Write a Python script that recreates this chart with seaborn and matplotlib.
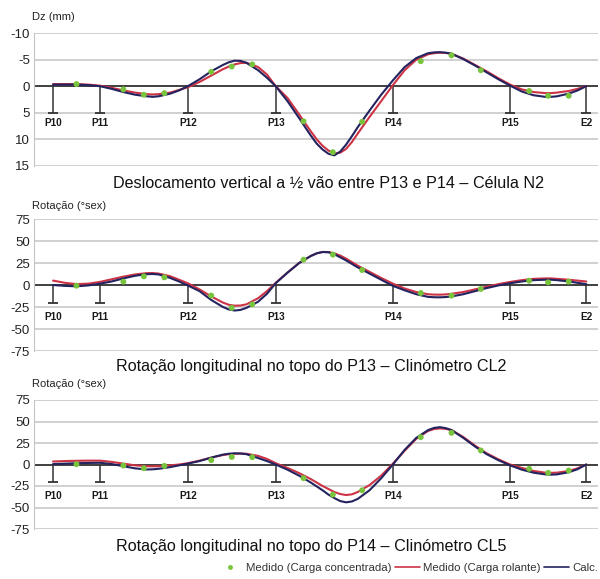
import matplotlib
matplotlib.use("Agg")
import matplotlib.pyplot as plt
import numpy as np
import pandas as pd
import seaborn as sns
from matplotlib.lines import Line2D

# ---------------- data ----------------
supports = ["P10", "P11", "P12", "P13", "P14", "P15", "E2"]
support_x = [0, 16, 46, 76, 116, 156, 182]

x_m = [0, 4, 8, 12, 16, 20, 24, 28, 32, 34,
       36, 40, 43, 46, 50, 54, 58, 60, 62, 64,
       66, 70, 73, 76, 80, 84, 88, 90, 92, 94,
       96, 98, 100, 102, 104, 108, 112, 116, 120, 124,
       128, 130, 132, 134, 136, 140, 144, 148, 152, 156,
       160, 164, 168, 170, 172, 176, 179, 182]

dz_calc = [-0.3, -0.3, -0.3, -0.2, 0.0, 0.5, 1.1, 1.6, 1.9, 2.0,
           1.9, 1.4, 0.8, 0.0, -1.3, -2.8, -4.0, -4.5, -4.8, -4.75,
           -4.4, -3.0, -1.6, 0.0, 2.8, 6.0, 9.3, 10.8, 11.9, 12.7,
           13.0, 12.3, 11.0, 9.4, 7.7, 4.6, 1.6, -1.1, -3.6, -5.3,
           -6.2, -6.35, -6.4, -6.3, -6.1, -5.1, -3.9, -2.6, -1.3, -0.1,
           1.0, 1.7, 2.0, 2.0, 1.9, 1.4, 0.8, 0.0]
dz_rolante = [-0.4, -0.4, -0.4, -0.3, -0.1, 0.3, 0.8, 1.2, 1.5, 1.55,
              1.5, 1.2, 0.7, 0.2, -0.8, -2.0, -3.2, -3.7, -4.1, -4.35,
              -4.4, -3.6, -2.2, 0.0, 2.2, 5.3, 8.5, 10.0, 11.2, 12.1,
              12.6, 12.5, 11.8, 10.5, 8.9, 5.8, 2.8, -0.2, -3.0, -5.0,
              -6.0, -6.2, -6.3, -6.25, -6.1, -5.2, -4.0, -2.8, -1.5, -0.3,
              0.6, 1.1, 1.3, 1.3, 1.2, 0.9, 0.5, 0.0]

cl2_calc = [0, -1, -1.5, -0.5, 1.5, 4, 7.5, 10.5, 12.3, 12.5,
            12, 8, 4, -0.5, -7, -17, -25, -27.8, -29, -28.3,
            -26, -19, -10, 2, 14, 25, 33, 36, 37.5, 37.2,
            35, 31.5, 28, 24, 20, 13, 6, -1, -6, -10.5,
            -13.5, -13.9, -14, -13.7, -13, -10.5, -7, -3.5, -0.5, 2,
            4, 5.5, 6, 6, 5.5, 4, 2.5, 1]
cl2_rolante = [5, 2.5, 1, 1.5, 3.5, 6.5, 9.5, 12, 13.5, 13.6,
               13, 10, 6, 2, -5, -13, -20, -22.5, -23.5, -23.3,
               -22, -15, -7, 2.5, 14, 25, 33, 36, 37.5, 37.5,
               36, 33.5, 30, 26, 22, 15, 8, 1.5, -4, -8,
               -10.5, -10.9, -11, -10.7, -10, -8, -5, -2, 1, 3.5,
               5.5, 7, 7.5, 7.5, 7, 6, 5, 4]

cl5_calc = [0.5, 1, 1.5, 1.8, 2, 0.5, -2, -4.5, -5.8, -5.6,
            -5, -3, -1, 1, 4, 8, 11.5, 12.5, 13, 12.8,
            12, 7.5, 4, 0, -6, -13, -21, -25.5, -30, -35,
            -39, -42.5, -44, -43, -40, -30, -16, 0, 17, 31,
            40, 42.5, 43.4, 42.3, 40, 31, 21, 12, 5, -1,
            -6, -9.5, -11.5, -11.8, -11.5, -9, -5.5, 0]
cl5_rolante = [3.5, 4, 4.3, 4.5, 4.5, 3, 1, -1, -2, -2.1,
               -2, -1, 0, 1.5, 4.5, 8, 11, 12, 12.5, 12.7,
               12.5, 10, 6.5, 1.5, -4, -10, -17, -21, -25, -28.5,
               -32, -34.3, -35.5, -34.7, -32, -24, -13, 1, 16, 30,
               39, 41.2, 42, 41.5, 40, 32, 22, 13, 6, 0,
               -4, -7.5, -9.5, -9.7, -9.5, -7.5, -4.5, 0]

x_pts = [8, 24, 31, 38, 54, 61, 68, 85.5, 95.5, 105.5, 125.5, 136, 146, 162.5, 169, 176]
dz_conc = [-0.4, 0.6, 1.6, 1.3, -2.7, -3.7, -4.1, 6.6, 12.4, 6.7, -4.7, -5.8, -3.0, 0.9, 1.8, 1.8]
cl2_conc = [-0.8, 3.8, 9.8, 8.7, -12, -26, -22, 28.8, 34.5, 17, -9.1, -12.1, -4.5, 4.9, 3, 3.8]
cl5_conc = [0.3, -1.2, -4.3, -1.6, 5, 8.8, 8.5, -15.9, -35, -30, 31.8, 36.8, 16.3, -5, -9.7, -7]

titles = ["Deslocamento vertical a ½ vão entre P13 e P14 – Célula N2",
          "Rotação longitudinal no topo do P13 – Clinómetro CL2",
          "Rotação longitudinal no topo do P14 – Clinómetro CL5"]
ylabels = ["Dz (mm)", "Rotação (°sex)", "Rotação (°sex)"]
lbl_conc = "Medido (Carga concentrada)"
lbl_rol = "Medido (Carga rolante)"
lbl_calc = "Calc."

# ---------------- style ----------------
sns.set_theme(style="white")
plt.rcParams["font.family"] = ["Liberation Sans", "DejaVu Sans"]

C_GREEN = "#78c43c"
C_RED = "#cc3345"
C_NAVY = "#23235f"
C_GRID = "#c4c4c4"

fig = plt.figure(figsize=(6.0, 5.79), dpi=100)
H = 579.0
left = 34 / 600
width = (598 - 34) / 600
panel_px = [(33, 166), (219, 351), (400, 529)]   # top, bottom pixel rows of plot areas

panels = [
    dict(calc=dz_calc, rol=dz_rolante, conc=dz_conc, ylim=(15, -10),
         ticks=[-10, -5, 0, 5, 10, 15], sup_bot=5, lab_y=6.9),
    dict(calc=cl2_calc, rol=cl2_rolante, conc=cl2_conc, ylim=(-75, 75),
         ticks=[75, 50, 25, 0, -25, -50, -75], sup_bot=-20, lab_y=-36),
    dict(calc=cl5_calc, rol=cl5_rolante, conc=cl5_conc, ylim=(-75, 75),
         ticks=[75, 50, 25, 0, -25, -50, -75], sup_bot=-20, lab_y=-37),
]

title_y = [183, 367, 547]
title_x = [329, 311, 311]
ylabel_y = [17, 206, 384]
ylabel_x = [32, 32, 32]

for i, p in enumerate(panels):
    top_px, bot_px = panel_px[i]
    ax = fig.add_axes([left, 1 - bot_px / H, width, (bot_px - top_px) / H])
    ax.set_xlim(-6.5, 186)
    ax.set_ylim(*p["ylim"])
    ax.set_yticks(p["ticks"])
    ax.set_yticklabels([str(t) for t in p["ticks"]], fontsize=9.5, color="#222222")
    ax.tick_params(axis="y", length=0, pad=3)
    ax.set_xticks([])
    for s in ax.spines.values():
        s.set_visible(False)
    ax.spines["left"].set_visible(True)
    ax.spines["left"].set_color(C_GRID)
    ax.spines["left"].set_linewidth(0.8)
    for t in p["ticks"]:
        ax.axhline(t, color=C_GRID, lw=1.1, zorder=0)
    ax.axhline(0, color="#1a1a1a", lw=1.1, zorder=1)

    # supports
    ax.vlines(support_x, 0, p["sup_bot"], color="#333333", lw=1.1, zorder=2)
    ax.plot(support_x, [p["sup_bot"]] * len(support_x), ls="none", marker="_",
            ms=7, mew=1.3, color="#333333", zorder=2)
    for sx, name in zip(support_x, supports):
        ax.text(sx, p["lab_y"], name, ha="center", va="center", fontsize=7.2,
                fontweight="bold", color="#1a1a1a")

    df_lines = pd.DataFrame({
        "x": x_m * 2,
        "v": list(p["rol"]) + list(p["calc"]),
        "serie": [lbl_rol] * len(x_m) + [lbl_calc] * len(x_m),
    })
    sns.lineplot(data=df_lines, x="x", y="v", hue="serie",
                 palette={lbl_rol: C_RED, lbl_calc: C_NAVY},
                 estimator=None, sort=False, lw=1.5, ax=ax, legend=False, zorder=3)
    df_pts = pd.DataFrame({"x": x_pts, "v": p["conc"]})
    sns.scatterplot(data=df_pts, x="x", y="v", color=C_GREEN, s=18,
                    edgecolor="none", ax=ax, zorder=4)
    ax.set_xlabel("")
    ax.set_ylabel("")

    fig.text(title_x[i] / 600, 1 - title_y[i] / H, titles[i], ha="center", va="center",
             fontsize=11.6, color="#111111")
    fig.text(ylabel_x[i] / 600, 1 - ylabel_y[i] / H, ylabels[i], ha="left",
             va="center", fontsize=8, color="#222222")

handles = [
    Line2D([], [], ls="none", marker="o", ms=3.5, color=C_GREEN, mec="none"),
    Line2D([], [], color=C_RED, lw=1.2),
    Line2D([], [], color=C_NAVY, lw=1.2),
]
fig.legend(handles, [lbl_conc, lbl_rol, lbl_calc], ncol=3, frameon=False,
           loc="center right", bbox_to_anchor=(1.0, 1 - 568 / H), fontsize=8.2,
           handlelength=2.2, handletextpad=0.3, columnspacing=0.3,
           borderaxespad=0.0, borderpad=0.1, labelcolor="#333333")

fig.savefig("out.png", dpi=100)
